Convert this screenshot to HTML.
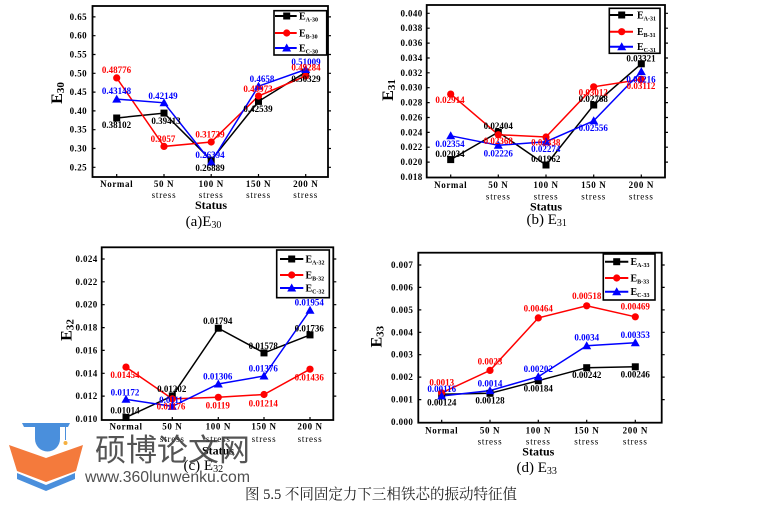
<!DOCTYPE html>
<html><head><meta charset="utf-8"><style>
html,body{margin:0;padding:0;background:#fff}
svg{display:block}
.t{font:bold 9px "Liberation Serif",serif;text-anchor:middle}
.yl{font:bold 9px "Liberation Serif",serif;text-anchor:end;letter-spacing:.4px}
.xl{font:bold 9px "Liberation Serif",serif;text-anchor:middle;letter-spacing:.6px}
.xs{font:9px "Liberation Serif",serif;text-anchor:middle;letter-spacing:.8px}
.st{font:bold 12px "Liberation Serif",serif;text-anchor:middle}
.cap{font:15px "Liberation Serif",serif;text-anchor:middle}
.yt{font:bold 16px "Liberation Serif",serif;text-anchor:middle}
.lg{font:bold 10px "Liberation Serif",serif}
.k{fill:#000}.r{fill:#f00}.b{fill:#00f}
.fr{fill:none;stroke:#000;stroke-width:1.8}
.tk{stroke:#000;stroke-width:1.2}
.ln{fill:none;stroke-width:1.5}
</style></head><body>
<svg width="761" height="513" viewBox="0 0 761 513" xmlns="http://www.w3.org/2000/svg">

<!-- ================= (a) ================= -->
<rect class="fr" x="92.5" y="6" width="235.5" height="171"/>
<g class="tk">
<path d="M92.5 167.3h3M92.5 148.5h3M92.5 129.7h3M92.5 110.9h3M92.5 92.1h3M92.5 73.3h3M92.5 54.5h3M92.5 35.7h3M92.5 16.9h3"/>
<path d="M328 167.3h3M328 148.5h3M328 129.7h3M328 110.9h3M328 92.1h3M328 73.3h3M328 54.5h3M328 35.7h3M328 16.9h3"/>
<path d="M116.7 177v-3M164 177v-3M211.2 177v-3M258.5 177v-3M305.7 177v-3"/>
</g>
<g class="yl">
<text x="87" y="170.3">0.25</text><text x="87" y="151.5">0.30</text><text x="87" y="132.7">0.35</text>
<text x="87" y="113.9">0.40</text><text x="87" y="95.1">0.45</text><text x="87" y="76.3">0.50</text>
<text x="87" y="57.5">0.55</text><text x="87" y="38.7">0.60</text><text x="87" y="19.9">0.65</text>
</g>
<text class="yt" transform="translate(62,93) rotate(-90)">E<tspan font-size="11" dy="2">30</tspan></text>
<g class="xl"><text x="116.7" y="187">Normal</text><text x="164" y="187">50 N</text><text x="211.2" y="187">100 N</text><text x="258.5" y="187">150 N</text><text x="305.7" y="187">200 N</text></g>
<g class="xs"><text x="164" y="198">stress</text><text x="211.2" y="198">stress</text><text x="258.5" y="198">stress</text><text x="305.7" y="198">stress</text></g>
<text class="st" x="211" y="209">Status</text>
<text class="cap" x="203.5" y="226">(a)E<tspan font-size="10" dy="2">30</tspan></text>

<polyline class="ln" stroke="#000" points="116.7,118 164,113.1 211.2,160.2 258.5,101.4 305.7,72.1"/>
<polyline class="ln" stroke="#f00" points="116.7,77.9 164,146.4 211.2,142 258.5,96 305.7,76"/>
<polyline class="ln" stroke="#00f" points="116.7,99.1 164,102.8 211.2,162.1 258.5,86.2 305.7,69.5"/>
<g class="k"><rect x="113.2" y="114.5" width="7" height="7"/><rect x="160.5" y="109.6" width="7" height="7"/><rect x="207.7" y="156.7" width="7" height="7"/><rect x="255" y="97.9" width="7" height="7"/><rect x="302.2" y="68.6" width="7" height="7"/></g>
<g class="r"><circle cx="116.7" cy="77.9" r="3.6"/><circle cx="164" cy="146.4" r="3.6"/><circle cx="211.2" cy="142" r="3.6"/><circle cx="258.5" cy="96" r="3.6"/><circle cx="305.7" cy="76" r="3.6"/></g>
<g class="b"><polygon points="116.7,94.6 112.2,102.6 121.2,102.6"/><polygon points="164,98.3 159.5,106.3 168.5,106.3"/><polygon points="211.2,157.6 206.7,165.6 215.7,165.6"/><polygon points="258.5,81.7 254,89.7 263,89.7"/><polygon points="305.7,65 301.2,73 310.2,73"/></g>
<g class="t">
<text class="r" x="116.5" y="73">0.48776</text>
<text class="b" x="116.5" y="94">0.43148</text>
<text class="k" x="116.5" y="128">0.38102</text>
<text class="b" x="163" y="99">0.42149</text>
<text class="k" x="166" y="124">0.39413</text>
<text class="r" x="163" y="142">0.3057</text>
<text class="r" x="210" y="137.5">0.31739</text>
<text class="b" x="210" y="158">0.26394</text>
<text class="k" x="210" y="171">0.26889</text>
<text class="b" x="262" y="82">0.4658</text>
<text class="r" x="258" y="92">0.43973</text>
<text class="k" x="258" y="112">0.42539</text>
<text class="b" x="306" y="65">0.51009</text>
<text class="r" x="306" y="70.5">0.49284</text>
<text class="k" x="306" y="82">0.50329</text>
</g>
<rect x="274" y="10.7" width="52.7" height="44.3" fill="#fff" stroke="#000" stroke-width="1.6"/>
<path d="M275 16h21.7" stroke="#000" stroke-width="2"/><rect x="283.2" y="12.5" width="7" height="7"/>
<path d="M275 33h21.7" stroke="#f00" stroke-width="2"/><circle cx="286.7" cy="33" r="3.6" fill="#f00"/>
<path d="M275 48h21.7" stroke="#00f" stroke-width="2"/><polygon points="286.7,43.5 282.2,51.5 291.2,51.5" fill="#00f"/>
<text class="lg" x="299" y="19.5">E<tspan font-size="6" dy="2">A-30</tspan></text>
<text class="lg" x="299" y="36.5">E<tspan font-size="6" dy="2">B-30</tspan></text>
<text class="lg" x="299" y="51.5">E<tspan font-size="6" dy="2">C-30</tspan></text>

<!-- ================= (b) ================= -->
<rect class="fr" x="426.7" y="5" width="238.3" height="172.5"/>
<g class="tk">
<path d="M426.7 162.1h3M426.7 147.2h3M426.7 132.4h3M426.7 117.5h3M426.7 102.6h3M426.7 87.7h3M426.7 72.8h3M426.7 58h3M426.7 43.1h3M426.7 28.2h3M426.7 13.3h3"/>
<path d="M665 162.1h3M665 147.2h3M665 132.4h3M665 117.5h3M665 102.6h3M665 87.7h3M665 72.8h3M665 58h3M665 43.1h3M665 28.2h3M665 13.3h3"/>
<path d="M450.7 177.5v-3M498.3 177.5v-3M546 177.5v-3M593.7 177.5v-3M641.3 177.5v-3"/>
</g>
<g class="yl">
<text x="422.7" y="180">0.018</text><text x="422.7" y="165.1">0.020</text><text x="422.7" y="150.2">0.022</text>
<text x="422.7" y="135.4">0.024</text><text x="422.7" y="120.5">0.026</text><text x="422.7" y="105.6">0.028</text>
<text x="422.7" y="90.7">0.030</text><text x="422.7" y="75.8">0.032</text><text x="422.7" y="61">0.034</text>
<text x="422.7" y="46.1">0.036</text><text x="422.7" y="31.2">0.038</text><text x="422.7" y="16.3">0.040</text>
</g>
<text class="yt" transform="translate(393,90) rotate(-90)">E<tspan font-size="11" dy="2">31</tspan></text>
<g class="xl"><text x="450.7" y="188">Normal</text><text x="498.3" y="188">50 N</text><text x="546" y="188">100 N</text><text x="593.7" y="188">150 N</text><text x="641.3" y="188">200 N</text></g>
<g class="xs"><text x="498.3" y="199.5">stress</text><text x="546" y="199.5">stress</text><text x="593.7" y="199.5">stress</text><text x="641.3" y="199.5">stress</text></g>
<text class="st" x="546" y="210.5">Status</text>
<text class="cap" x="546.7" y="224">(b) E<tspan font-size="10" dy="2">31</tspan></text>

<polyline class="ln" stroke="#000" points="450.7,159.6 498.3,132.1 546,165 593.7,105 641.3,63.8"/>
<polyline class="ln" stroke="#f00" points="450.7,94.1 498.3,134.7 546,137 593.7,86.8 641.3,79.4"/>
<polyline class="ln" stroke="#00f" points="450.7,135.8 498.3,145.3 546,141.7 593.7,120.8 641.3,71.6"/>
<g class="k"><rect x="447.2" y="156.1" width="7" height="7"/><rect x="494.8" y="128.6" width="7" height="7"/><rect x="542.5" y="161.5" width="7" height="7"/><rect x="590.2" y="101.5" width="7" height="7"/><rect x="637.8" y="60.3" width="7" height="7"/></g>
<g class="r"><circle cx="450.7" cy="94.1" r="3.6"/><circle cx="498.3" cy="134.7" r="3.6"/><circle cx="546" cy="137" r="3.6"/><circle cx="593.7" cy="86.8" r="3.6"/><circle cx="641.3" cy="79.4" r="3.6"/></g>
<g class="b"><polygon points="450.7,131.3 446.2,139.3 455.2,139.3"/><polygon points="498.3,140.8 493.8,148.8 502.8,148.8"/><polygon points="546,137.2 541.5,145.2 550.5,145.2"/><polygon points="593.7,116.3 589.2,124.3 598.2,124.3"/><polygon points="641.3,67.1 636.8,75.1 645.8,75.1"/></g>
<g class="t">
<text class="r" x="450" y="103">0.02914</text>
<text class="b" x="450" y="147">0.02354</text>
<text class="k" x="450" y="157">0.02034</text>
<text class="k" x="498.3" y="129">0.02404</text>
<text class="r" x="498.3" y="144">0.02368</text>
<text class="b" x="498.3" y="156.3">0.02226</text>
<text class="r" x="545.7" y="145.3">0.02338</text>
<text class="b" x="545.7" y="152">0.02274</text>
<text class="k" x="545.7" y="162">0.01962</text>
<text class="r" x="593.3" y="95.3">0.03012</text>
<text class="k" x="593.3" y="102">0.02768</text>
<text class="b" x="593.3" y="131">0.02556</text>
<text class="k" x="641" y="61.3">0.03321</text>
<text class="b" x="641" y="82.3">0.03216</text>
<text class="r" x="641" y="89">0.03112</text>
</g>
<rect x="609.3" y="8.3" width="50.7" height="45" fill="#fff" stroke="#000" stroke-width="1.6"/>
<path d="M610 15h23" stroke="#000" stroke-width="2"/><rect x="618.2" y="11.5" width="7" height="7"/>
<path d="M610 31.7h23" stroke="#f00" stroke-width="2"/><circle cx="621.7" cy="31.7" r="3.6" fill="#f00"/>
<path d="M610 46.7h23" stroke="#00f" stroke-width="2"/><polygon points="621.7,42.2 617.2,50.2 626.2,50.2" fill="#00f"/>
<text class="lg" x="637" y="18.5">E<tspan font-size="6" dy="2">A-31</tspan></text>
<text class="lg" x="637" y="35.2">E<tspan font-size="6" dy="2">B-31</tspan></text>
<text class="lg" x="637" y="50.2">E<tspan font-size="6" dy="2">C-31</tspan></text>

<!-- ================= (c) ================= -->
<rect class="fr" x="101.7" y="247.3" width="231.6" height="172.7"/>
<g class="tk">
<path d="M101.7 396.1h3M101.7 373.3h3M101.7 350.4h3M101.7 327.6h3M101.7 304.7h3M101.7 281.8h3M101.7 259h3"/>
<path d="M333.3 396.1h3M333.3 373.3h3M333.3 350.4h3M333.3 327.6h3M333.3 304.7h3M333.3 281.8h3M333.3 259h3"/>
<path d="M126 420v-3M172.3 420v-3M218.3 420v-3M264 420v-3M310 420v-3"/>
</g>
<g class="yl">
<text x="97.7" y="422">0.010</text><text x="97.7" y="399.1">0.012</text><text x="97.7" y="376.3">0.014</text>
<text x="97.7" y="353.4">0.016</text><text x="97.7" y="330.6">0.018</text><text x="97.7" y="307.7">0.020</text>
<text x="97.7" y="284.8">0.022</text><text x="97.7" y="262">0.024</text>
</g>
<text class="yt" transform="translate(71.5,330) rotate(-90)">E<tspan font-size="11" dy="2">32</tspan></text>
<g class="xl"><text x="126" y="429.7">Normal</text><text x="172.3" y="429.7">50 N</text><text x="218.3" y="429.7">100 N</text><text x="264" y="429.7">150 N</text><text x="310" y="429.7">200 N</text></g>
<g class="xs"><text x="172.3" y="442">stress</text><text x="218.3" y="442">stress</text><text x="264" y="442">stress</text><text x="310" y="442">stress</text></g>
<text class="st" x="218" y="454.5">Status</text>
<text class="cap" x="203.3" y="470">(c) E<tspan font-size="10" dy="2">32</tspan></text>

<polyline class="ln" stroke="#000" points="126,417.4 172.3,395.9 218.3,328.2 264,352.9 310,334.9"/>
<polyline class="ln" stroke="#f00" points="126,367.1 172.3,398.9 218.3,397.3 264,394.5 310,369.2"/>
<polyline class="ln" stroke="#00f" points="126,399.3 172.3,406.4 218.3,384 264,376 310,310.2"/>
<g class="k"><rect x="122.5" y="413.9" width="7" height="7"/><rect x="168.8" y="392.4" width="7" height="7"/><rect x="214.8" y="324.7" width="7" height="7"/><rect x="260.5" y="349.4" width="7" height="7"/><rect x="306.5" y="331.4" width="7" height="7"/></g>
<g class="r"><circle cx="126" cy="367.1" r="3.6"/><circle cx="172.3" cy="398.9" r="3.6"/><circle cx="218.3" cy="397.3" r="3.6"/><circle cx="264" cy="394.5" r="3.6"/><circle cx="310" cy="369.2" r="3.6"/></g>
<g class="b"><polygon points="126,394.8 121.5,402.8 130.5,402.8"/><polygon points="172.3,401.9 167.8,409.9 176.8,409.9"/><polygon points="218.3,379.5 213.8,387.5 222.8,387.5"/><polygon points="264,371.5 259.5,379.5 268.5,379.5"/><polygon points="310,305.7 305.5,313.7 314.5,313.7"/></g>
<g class="t">
<text class="r" x="125" y="378">0.01454</text>
<text class="b" x="125" y="395.7">0.01172</text>
<text class="k" x="125" y="413.7">0.01014</text>
<text class="k" x="171.7" y="392">0.01202</text>
<text class="b" x="171" y="403">0.0111</text>
<text class="r" x="171" y="409.7">0.01176</text>
<text class="k" x="217.7" y="324">0.01794</text>
<text class="b" x="217.7" y="379.7">0.01306</text>
<text class="r" x="217.7" y="408.7">0.0119</text>
<text class="k" x="263.3" y="349">0.01578</text>
<text class="b" x="263.3" y="371.7">0.01376</text>
<text class="r" x="263.3" y="406.3">0.01214</text>
<text class="b" x="309.3" y="305.7">0.01954</text>
<text class="k" x="309.3" y="331.3">0.01736</text>
<text class="r" x="309.3" y="380.3">0.01436</text>
</g>
<rect x="276.7" y="250" width="52.6" height="47.7" fill="#fff" stroke="#000" stroke-width="1.6"/>
<path d="M280 259h23.3" stroke="#000" stroke-width="2"/><rect x="288.2" y="255.5" width="7" height="7"/>
<path d="M280 275h23.3" stroke="#f00" stroke-width="2"/><circle cx="291.7" cy="275" r="3.6" fill="#f00"/>
<path d="M280 288h23.3" stroke="#00f" stroke-width="2"/><polygon points="291.7,283.5 287.2,291.5 296.2,291.5" fill="#00f"/>
<text class="lg" x="305.5" y="262.5">E<tspan font-size="6" dy="2">A-32</tspan></text>
<text class="lg" x="305.5" y="278.5">E<tspan font-size="6" dy="2">B-32</tspan></text>
<text class="lg" x="305.5" y="291.5">E<tspan font-size="6" dy="2">C-32</tspan></text>

<!-- ================= (d) ================= -->
<rect class="fr" x="418.3" y="252.7" width="243.4" height="170"/>
<g class="tk">
<path d="M418.3 399.6h3M418.3 377.1h3M418.3 354.7h3M418.3 332.3h3M418.3 309.9h3M418.3 287.4h3M418.3 265h3"/>
<path d="M661.7 399.6h3M661.7 377.1h3M661.7 354.7h3M661.7 332.3h3M661.7 309.9h3M661.7 287.4h3M661.7 265h3"/>
<path d="M441.7 422.7v-3M490 422.7v-3M538.3 422.7v-3M586.7 422.7v-3M635.3 422.7v-3"/>
</g>
<g class="yl">
<text x="413.3" y="425">0.000</text><text x="413.3" y="402.6">0.001</text><text x="413.3" y="380.1">0.002</text>
<text x="413.3" y="357.7">0.003</text><text x="413.3" y="335.3">0.004</text><text x="413.3" y="312.9">0.005</text>
<text x="413.3" y="290.4">0.006</text><text x="413.3" y="268">0.007</text>
</g>
<text class="yt" transform="translate(381.5,336.7) rotate(-90)">E<tspan font-size="11" dy="2">33</tspan></text>
<g class="xl"><text x="441.7" y="433.7">Normal</text><text x="490" y="433.7">50 N</text><text x="538.3" y="433.7">100 N</text><text x="586.7" y="433.7">150 N</text><text x="635.3" y="433.7">200 N</text></g>
<g class="xs"><text x="490" y="444.5">stress</text><text x="538.3" y="444.5">stress</text><text x="586.7" y="444.5">stress</text><text x="635.3" y="444.5">stress</text></g>
<text class="st" x="538.3" y="455.5">Status</text>
<text class="cap" x="536.7" y="472">(d) E<tspan font-size="10" dy="2">33</tspan></text>

<polyline class="ln" stroke="#000" points="441.7,394.2 490,393.3 538.3,380.7 586.7,367.7 635.3,366.8"/>
<polyline class="ln" stroke="#f00" points="441.7,392.8 490,370.4 538.3,317.9 586.7,305.8 635.3,316.8"/>
<polyline class="ln" stroke="#00f" points="441.7,396 490,390.6 538.3,376.7 586.7,345.7 635.3,342.8"/>
<g class="k"><rect x="438.2" y="390.7" width="7" height="7"/><rect x="486.5" y="389.8" width="7" height="7"/><rect x="534.8" y="377.2" width="7" height="7"/><rect x="583.2" y="364.2" width="7" height="7"/><rect x="631.8" y="363.3" width="7" height="7"/></g>
<g class="r"><circle cx="441.7" cy="392.8" r="3.6"/><circle cx="490" cy="370.4" r="3.6"/><circle cx="538.3" cy="317.9" r="3.6"/><circle cx="586.7" cy="305.8" r="3.6"/><circle cx="635.3" cy="316.8" r="3.6"/></g>
<g class="b"><polygon points="441.7,391.5 437.2,399.5 446.2,399.5"/><polygon points="490,386.1 485.5,394.1 494.5,394.1"/><polygon points="538.3,372.2 533.8,380.2 542.8,380.2"/><polygon points="586.7,341.2 582.2,349.2 591.2,349.2"/><polygon points="635.3,338.3 630.8,346.3 639.8,346.3"/></g>
<g class="t">
<text class="r" x="441.7" y="385.7">0.0013</text>
<text class="b" x="441.7" y="392">0.00116</text>
<text class="k" x="441.7" y="405.7">0.00124</text>
<text class="r" x="490" y="364.3">0.0023</text>
<text class="b" x="490" y="386.3">0.0014</text>
<text class="k" x="490" y="403.7">0.00128</text>
<text class="r" x="538.3" y="311.3">0.00464</text>
<text class="b" x="538.3" y="372">0.00202</text>
<text class="k" x="538.3" y="391.3">0.00184</text>
<text class="r" x="586.7" y="299">0.00518</text>
<text class="b" x="586.7" y="340.7">0.0034</text>
<text class="k" x="586.7" y="378">0.00242</text>
<text class="r" x="635.3" y="309.7">0.00469</text>
<text class="b" x="635.3" y="338">0.00353</text>
<text class="k" x="635.3" y="377.3">0.00246</text>
</g>
<rect x="603.3" y="254" width="51.7" height="46" fill="#fff" stroke="#000" stroke-width="1.6"/>
<path d="M605 261.7h23.3" stroke="#000" stroke-width="2"/><rect x="613.2" y="258.2" width="7" height="7"/>
<path d="M605 278h23.3" stroke="#f00" stroke-width="2"/><circle cx="616.7" cy="278" r="3.6" fill="#f00"/>
<path d="M605 291.7h23.3" stroke="#00f" stroke-width="2"/><polygon points="616.7,287.2 612.2,295.2 621.2,295.2" fill="#00f"/>
<text class="lg" x="630.5" y="265.2">E<tspan font-size="6" dy="2">A-33</tspan></text>
<text class="lg" x="630.5" y="281.5">E<tspan font-size="6" dy="2">B-33</tspan></text>
<text class="lg" x="630.5" y="295.2">E<tspan font-size="6" dy="2">C-33</tspan></text>

<!-- ================= watermark ================= -->
<g>
<polygon points="17,473 46,485 75,473 75,479 46,491 17,479" fill="#4a8fdc"/>
<polygon points="9,445 46,458 83,445 76,471 46,482 17,471" fill="#f47a3c"/>
<polygon points="22,423 70,423 68,427 24,427" fill="#4a8fdc"/>
<path d="M35 427h25v12a12.5 12.5 0 0 1 -25 0z" fill="#4a8fdc"/>
<path d="M65.5 426v14" stroke="#4a8fdc" stroke-width="1"/>
<circle cx="65.5" cy="443" r="2" fill="#f5b040"/>
<text x="95" y="461" font-family="'Liberation Sans','Noto Sans CJK SC',sans-serif" font-size="31" fill="#3c3c3c" fill-opacity="0.88" textLength="155" lengthAdjust="spacingAndGlyphs">硕博论文网</text>
<text x="85" y="482" font-family="'Liberation Sans',sans-serif" font-size="16" fill="#3c3c3c" fill-opacity="0.9" textLength="165" lengthAdjust="spacingAndGlyphs">www.360lunwenku.com</text>
</g>

<!-- caption -->
<text x="245" y="499" font-family="'Liberation Serif','Noto Serif CJK SC',serif" font-size="15" fill="#222" textLength="272" lengthAdjust="spacingAndGlyphs">图 5.5 不同固定力下三相铁芯的振动特征值</text>
</svg>
</body></html>
